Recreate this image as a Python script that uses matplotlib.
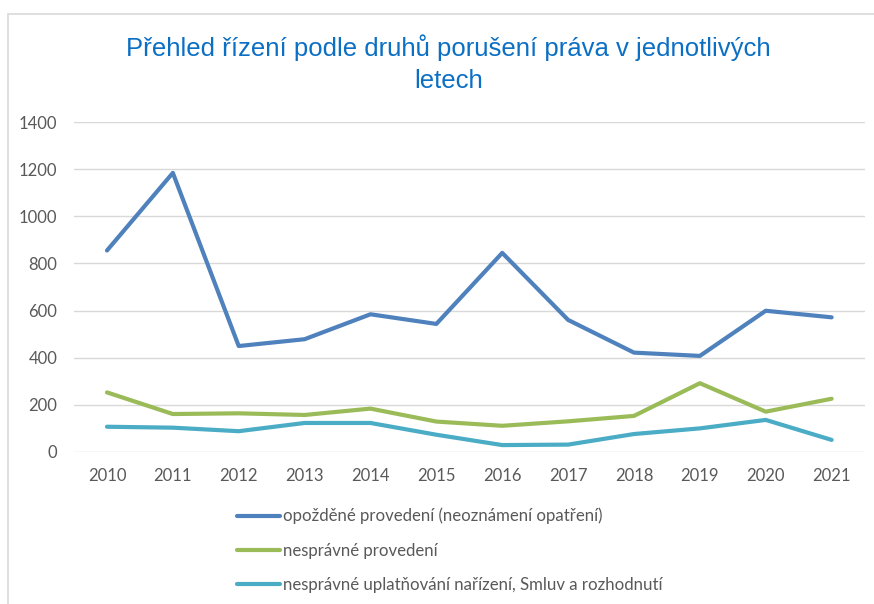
import matplotlib
matplotlib.use('Agg')
import matplotlib.pyplot as plt
from matplotlib.patches import Rectangle

# --- DATA ---
roky = ['2010', '2011', '2012', '2013', '2014', '2015',
        '2016', '2017', '2018', '2019', '2020', '2021']
opozdene = [855, 1185, 449, 478, 584, 543, 845, 560, 421, 407, 599, 571]
nespravne = [252, 160, 163, 156, 183, 128, 110, 129, 152, 291, 170, 225]
uplatnovani = [106, 102, 87, 122, 122, 72, 28, 30, 75, 99, 135, 50]

nazvy = ['opožděné provedení (neoznámení opatření)',
         'nesprávné provedení',
         'nesprávné uplatňování nařízení, Smluv a rozhodnutí']
barvy = ['#4F81BD', '#9BBB59', '#4BACC6']

TITULEK = 'Přehled řízení podle druhů porušení práva v jednotlivých\nletech'
GRID = '#D9D9D9'
TEXT = '#595959'

plt.rcParams['font.family'] = ['Lato', 'DejaVu Sans']

fig = plt.figure(figsize=(8.74, 6.04), dpi=100)
ax = fig.add_axes([0.0847, 0.2522, 0.9045, 0.5453])

x = list(range(len(roky)))
for serie, nazev, barva in zip([opozdene, nespravne, uplatnovani], nazvy, barvy):
    ax.plot(x, serie, color=barva, linewidth=3.0, label=nazev,
            solid_capstyle='round', solid_joinstyle='round')

ax.set_xlim(-0.5, len(roky) - 0.5)
ax.set_ylim(0, 1400)
ax.set_yticks(range(0, 1401, 200))
ax.set_xticks(x)
ax.set_xticklabels(roky)
ax.grid(axis='y', color=GRID, linewidth=1.0)
ax.set_axisbelow(True)
for s in ax.spines.values():
    s.set_visible(False)
ax.tick_params(length=0, labelsize=12, colors=TEXT)
ax.tick_params(axis='x', pad=12)
ax.tick_params(axis='y', pad=12)

# nadpis
fig.text(0.513, 0.943, TITULEK, ha='center', va='top', fontsize=18.5,
         color='#0B6FC4', family=['Liberation Sans', 'DejaVu Sans'],
         linespacing=1.42)

# legenda
leg = fig.legend(loc='upper left', bbox_to_anchor=(0.262, 0.173),
                 frameon=False, fontsize=12.1, handlelength=2.55,
                 handletextpad=0.15, labelspacing=1.08, borderpad=0)
for t in leg.get_texts():
    t.set_color(TEXT)

# ramecek grafu
fig.patches.append(Rectangle((8 / 874, -0.1), 1.2, 1 - 14 / 604 + 0.1,
                             transform=fig.transFigure, fill=False,
                             edgecolor=GRID, linewidth=1.2))

fig.savefig('out.png', dpi=100)
